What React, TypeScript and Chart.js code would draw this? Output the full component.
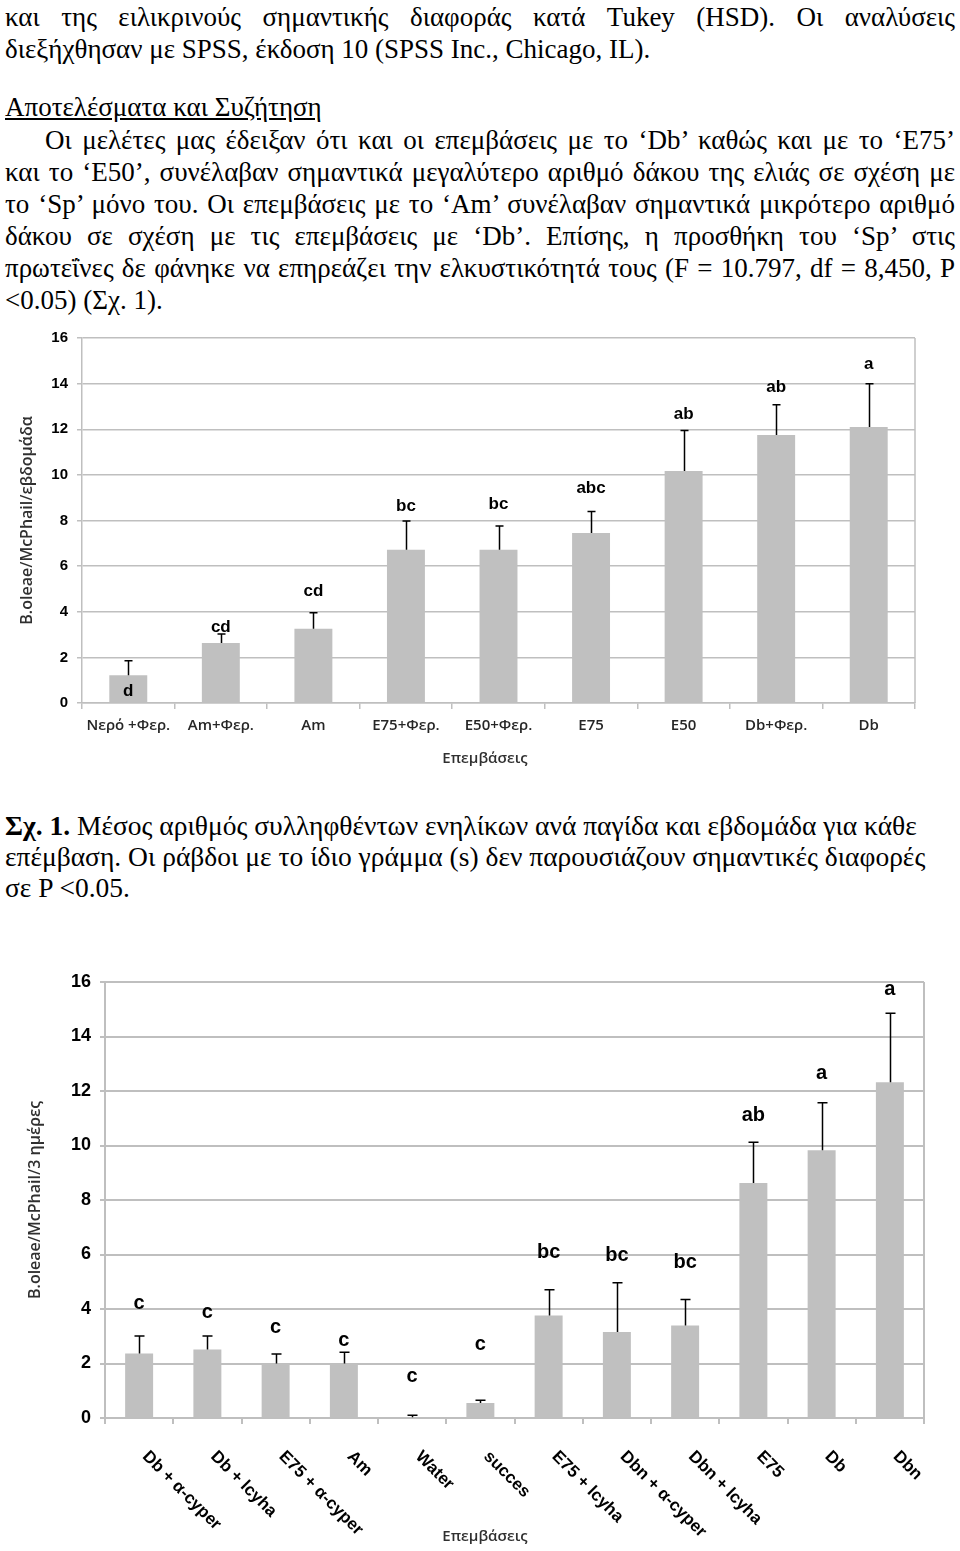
import React, { useEffect, useRef } from 'react';
import { Chart, registerables } from 'chart.js';
Chart.register(...registerables);

// ---------- Chart 1 data ----------
const cats1 = ['Νερό +Φερ.', 'Am+Φερ.', 'Am', 'E75+Φερ.', 'E50+Φερ.', 'E75', 'E50', 'Db+Φερ.', 'Db'];
const means1 = [1.22, 2.63, 3.26, 6.72, 6.72, 7.45, 10.17, 11.75, 12.1];
const errs1 = [0.63, 0.4, 0.7, 1.26, 1.04, 0.95, 1.78, 1.32, 1.89];
const letters1 = ['d', 'cd', 'cd', 'bc', 'bc', 'abc', 'ab', 'ab', 'a'];
const letterAt1 = [0.5, 3.33, 4.89, 8.64, 8.72, 9.43, 12.66, 13.84, 14.85];

// ---------- Chart 2 data ----------
const cats2 = ['Db + α-cyper', 'Db + lcyha', 'E75 + α-cyper', 'Am', 'Water', 'succes', 'E75 + lcyha', 'Dbn + α-cyper', 'Dbn + lcyha', 'E75', 'Db', 'Dbn'];
const means2 = [2.37, 2.51, 2.0, 2.0, 0.03, 0.55, 3.76, 3.16, 3.39, 8.62, 9.83, 12.32];
const errs2 = [0.64, 0.5, 0.35, 0.41, 0.07, 0.1, 0.95, 1.8, 0.96, 1.5, 1.74, 2.53];
const letters2 = ['c', 'c', 'c', 'c', 'c', 'c', 'bc', 'bc', 'bc', 'ab', 'a', 'a'];
const letterAt2 = [4.22, 3.86, 3.31, 2.83, 1.54, 2.7, 6.07, 5.95, 5.71, 11.09, 12.65, 15.73];

const yTicks = [0, 2, 4, 6, 8, 10, 12, 14, 16];

const GRID = '#bfbfbf';
const BAR = '#c0c0c0';
const SANS = '"Liberation Sans", Arial, sans-serif';
const OPEN = '"Open Sans", "Noto Sans", sans-serif';

type Cfg = {
  cats: string[];
  means: number[];
  errs: number[];
  letters: string[];
  letterAt: number[];
  width: number;
  height: number;
  padTop: number;
  padRight: number;
  yAxisW: number;
  xAxisH: number;
  tickFont: number;
  letterFont: number;
  cap: number;
  gridW: number;
  yTitle: string;
  yTitleX: number;
  xTitleX: number;
  xTitleDy: number;
  rotated: boolean;
  labelFont: number;
};

function makeChart(canvas: HTMLCanvasElement, c: Cfg) {
  const extras = {
    id: 'extras',
    beforeDatasetsDraw(chart: any) {
      const { ctx, chartArea } = chart;
      ctx.save();
      ctx.strokeStyle = GRID;
      ctx.lineWidth = c.gridW;
      ctx.beginPath();
      ctx.moveTo(chartArea.right, chartArea.bottom);
      ctx.lineTo(chartArea.right, chartArea.top);
      ctx.stroke();
      ctx.restore();
    },
    afterDatasetsDraw(chart: any) {
      const { ctx, chartArea } = chart;
      const meta = chart.getDatasetMeta(0);
      const ys = chart.scales.y;
      ctx.save();
      // error bars
      ctx.strokeStyle = '#000';
      ctx.lineWidth = 1.5;
      meta.data.forEach((bar: any, i: number) => {
        const x = Math.round(bar.x) + 0.5;
        const yb = ys.getPixelForValue(c.means[i]);
        const yt = ys.getPixelForValue(c.means[i] + c.errs[i]);
        ctx.beginPath();
        ctx.moveTo(x, yb);
        ctx.lineTo(x, yt);
        ctx.moveTo(x - c.cap, yt);
        ctx.lineTo(x + c.cap, yt);
        ctx.stroke();
      });
      // letters
      ctx.fillStyle = '#000';
      ctx.font = `bold ${c.letterFont}px ${SANS}`;
      ctx.textAlign = 'center';
      ctx.textBaseline = 'middle';
      meta.data.forEach((bar: any, i: number) => {
        ctx.fillText(c.letters[i], bar.x, ys.getPixelForValue(c.letterAt[i]));
      });
      // rotated category labels
      if (c.rotated) {
        ctx.font = `bold ${c.labelFont}px ${SANS}`;
        ctx.textAlign = 'left';
        ctx.textBaseline = 'middle';
        meta.data.forEach((bar: any, i: number) => {
          ctx.save();
          ctx.translate(bar.x + 6, chartArea.bottom + 36);
          ctx.rotate(Math.PI / 4);
          ctx.fillText(c.cats[i], 0, 0);
          ctx.restore();
        });
      }
      // axis titles
      ctx.fillStyle = '#303030';
      ctx.textAlign = 'center';
      ctx.textBaseline = 'middle';
      ctx.font = `600 15px ${OPEN}`;
      ctx.fillText('Επεμβάσεις', c.xTitleX, chartArea.bottom + c.xTitleDy);
      ctx.font = `600 16px ${OPEN}`;
      ctx.save();
      ctx.translate(c.yTitleX, (chartArea.top + chartArea.bottom) / 2);
      ctx.rotate(-Math.PI / 2);
      ctx.fillText(c.yTitle, 0, 0);
      ctx.restore();
      ctx.restore();
    },
  };

  return new Chart(canvas, {
    type: 'bar',
    data: {
      labels: c.cats,
      datasets: [
        {
          data: c.means,
          backgroundColor: BAR,
          borderWidth: 0,
          barPercentage: 0.41,
          categoryPercentage: 1,
        },
      ],
    },
    options: {
      responsive: false,
      animation: false,
      devicePixelRatio: 1,
      layout: { padding: { top: c.padTop, right: c.padRight, left: 0, bottom: 0 } },
      plugins: { legend: { display: false }, tooltip: { enabled: false }, title: { display: false } },
      scales: {
        x: {
          offset: true,
          grid: { offset: true, drawOnChartArea: false, drawTicks: true, tickLength: 6, color: GRID, lineWidth: c.gridW },
          border: { color: GRID, width: c.gridW },
          ticks: {
            display: !c.rotated,
            color: '#262626',
            font: { family: OPEN, size: 15, weight: '600' },
            padding: 8,
            maxRotation: 0,
            minRotation: 0,
            autoSkip: false,
          },
          afterFit: (s: any) => {
            s.height = c.xAxisH;
          },
        },
        y: {
          min: 0,
          max: 16,
          afterBuildTicks: (s: any) => {
            s.ticks = yTicks.map((v) => ({ value: v }));
          },
          grid: { color: GRID, lineWidth: c.gridW, tickLength: 5 },
          border: { color: GRID, width: c.gridW },
          ticks: {
            color: '#000',
            font: { family: SANS, size: c.tickFont, weight: 'bold' },
            padding: 9,
          },
          afterFit: (s: any) => {
            s.width = c.yAxisW;
          },
        },
      },
    },
    plugins: [extras],
  } as any);
}

const cfg1: Cfg = {
  cats: cats1,
  means: means1,
  errs: errs1,
  letters: letters1,
  letterAt: letterAt1,
  width: 960,
  height: 452,
  padTop: 16,
  padRight: 45,
  yAxisW: 82,
  xAxisH: 69,
  tickFont: 15,
  letterFont: 17,
  cap: 4,
  gridW: 1.5,
  yTitle: 'B.oleae/McPhail/εβδομάδα',
  yTitleX: 27,
  xTitleX: 485,
  xTitleDy: 56,
  rotated: false,
  labelFont: 15,
};

const cfg2: Cfg = {
  cats: cats2,
  means: means2,
  errs: errs2,
  letters: letters2,
  letterAt: letterAt2,
  width: 960,
  height: 596,
  padTop: 27,
  padRight: 36,
  yAxisW: 105,
  xAxisH: 133,
  tickFont: 18,
  letterFont: 20,
  cap: 5,
  gridW: 2,
  yTitle: 'B.oleae/McPhail/3 ημέρες',
  yTitleX: 35,
  xTitleX: 485,
  xTitleDy: 119,
  rotated: true,
  labelFont: 17,
};

function ChartBox({ cfg, top }: { cfg: Cfg; top: number }) {
  const ref = useRef<HTMLCanvasElement>(null);
  useEffect(() => {
    if (!ref.current) return;
    const ch = makeChart(ref.current, cfg);
    return () => ch.destroy();
  }, [cfg]);
  return (
    <canvas
      ref={ref}
      width={cfg.width}
      height={cfg.height}
      style={{ position: 'absolute', left: 0, top, width: cfg.width, height: cfg.height }}
    />
  );
}

const SERIF = '"Liberation Serif", "Times New Roman", serif';

function TLine({
  center,
  left = 5,
  right,
  justify = false,
  underline = false,
  size = 27,
  children,
}: {
  center: number;
  left?: number;
  right?: number;
  justify?: boolean;
  underline?: boolean;
  size?: number;
  children: React.ReactNode;
}) {
  const style: React.CSSProperties = {
    position: 'absolute',
    top: center - 16,
    left,
    height: 32,
    lineHeight: '32px',
    fontFamily: SERIF,
    fontSize: size,
    color: '#000',
    whiteSpace: 'nowrap',
    textDecoration: underline ? 'underline' : 'none',
  };
  if (justify && right !== undefined) {
    style.width = right - left;
    style.textAlign = 'justify';
    (style as any).textAlignLast = 'justify';
  }
  return <div style={style}>{children}</div>;
}

export default function App() {
  return (
    <div style={{ position: 'absolute', left: 0, top: 0, width: 960, height: 1551, background: '#fff' }}>
      <TLine center={17} right={955} justify>
        και της ειλικρινούς σημαντικής διαφοράς κατά Tukey (HSD). Οι αναλύσεις
      </TLine>
      <TLine center={49}>διεξήχθησαν με SPSS, έκδοση 10 (SPSS Inc., Chicago, IL).</TLine>
      <TLine center={107} underline>
        Αποτελέσματα και Συζήτηση
      </TLine>
      <TLine center={140} left={45} right={955} justify>
        Οι μελέτες μας έδειξαν ότι και οι επεμβάσεις με το ‘Db’ καθώς και με το ‘E75’
      </TLine>
      <TLine center={172} right={955} justify>
        και το ‘E50’, συνέλαβαν σημαντικά μεγαλύτερο αριθμό δάκου της ελιάς σε σχέση με
      </TLine>
      <TLine center={204} right={955} justify>
        το ‘Sp’ μόνο του. Οι επεμβάσεις με το ‘Am’ συνέλαβαν σημαντικά μικρότερο αριθμό
      </TLine>
      <TLine center={236} right={955} justify>
        δάκου σε σχέση με τις επεμβάσεις με ‘Db’. Επίσης, η προσθήκη του ‘Sp’ στις
      </TLine>
      <TLine center={268} right={955} justify>
        πρωτεΐνες δε φάνηκε να επηρεάζει την ελκυστικότητά τους (F = 10.797, df = 8,450, P
      </TLine>
      <TLine center={300}>&lt;0.05) (Σχ. 1).</TLine>

      <ChartBox cfg={cfg1} top={320} />

      <TLine center={826} size={27.5}>
        <b>Σχ. 1.</b> Μέσος αριθμός συλληφθέντων ενηλίκων ανά παγίδα και εβδομάδα για κάθε
      </TLine>
      <TLine center={857} size={27.5}>
        επέμβαση. Οι ράβδοι με το ίδιο γράμμα (s) δεν παρουσιάζουν σημαντικές διαφορές
      </TLine>
      <TLine center={888} size={27.5}>
        σε P &lt;0.05.
      </TLine>

      <ChartBox cfg={cfg2} top={955} />
    </div>
  );
}
